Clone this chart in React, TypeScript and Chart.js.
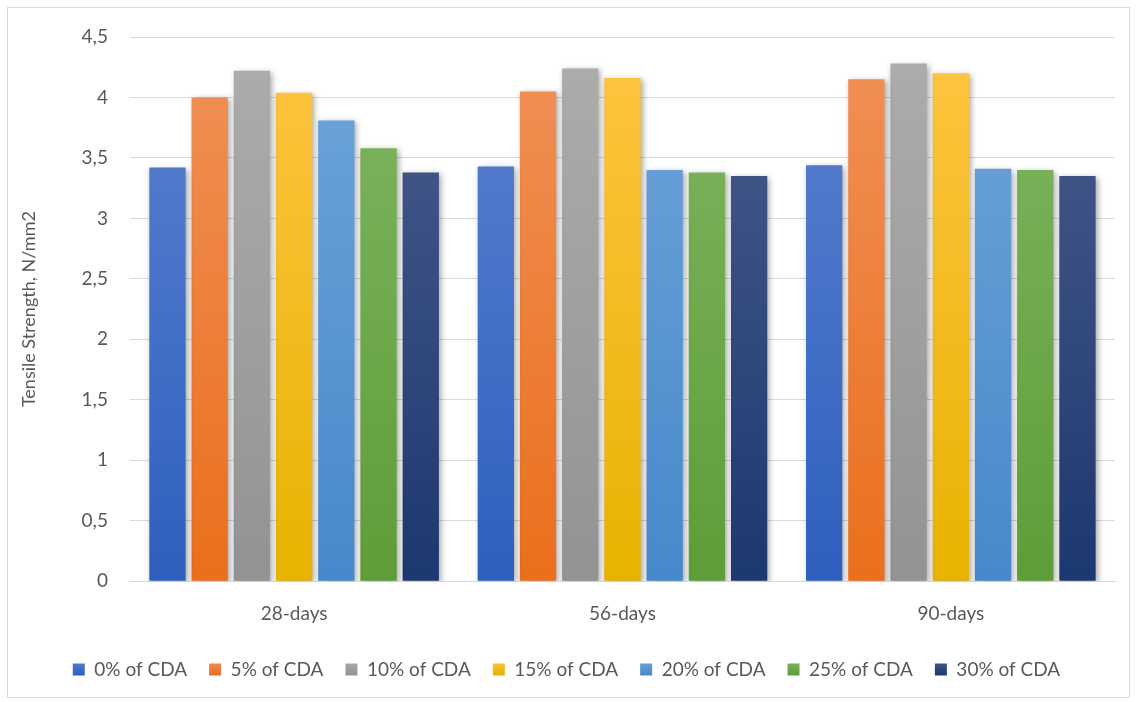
import React, { useEffect, useRef } from "react";
import { Chart, registerables } from "chart.js";

Chart.register(...registerables);

const categories = ["28-days", "56-days", "90-days"];
const seriesNames = ["0% of CDA", "5% of CDA", "10% of CDA", "15% of CDA", "20% of CDA", "25% of CDA", "30% of CDA"];
const cda0 = [3.42, 3.43, 3.44];
const cda5 = [4.0, 4.05, 4.15];
const cda10 = [4.22, 4.24, 4.28];
const cda15 = [4.04, 4.16, 4.2];
const cda20 = [3.81, 3.4, 3.41];
const cda25 = [3.58, 3.38, 3.4];
const cda30 = [3.38, 3.35, 3.35];
const seriesValues = [cda0, cda5, cda10, cda15, cda20, cda25, cda30];
const topColors = ["#5b82cf", "#f19158", "#adadad", "#ffc543", "#70a5db", "#80b662", "#4b5d8c"];
const bottomColors = ["#2e5fbf", "#ea6f1c", "#939393", "#e8b300", "#4689ca", "#5d9e38", "#1c3870"];
const yTicks = [0, 0.5, 1, 1.5, 2, 2.5, 3, 3.5, 4, 4.5];

const FONT = "Lato, 'Open Sans', sans-serif";

export default function App() {
  const ref = useRef<HTMLCanvasElement | null>(null);
  useEffect(() => {
    if (!ref.current) return;
    const borderPlugin = {
      id: "frame",
      beforeDraw(chart: any) {
        const c = chart.ctx;
        c.save();
        c.fillStyle = "#ffffff";
        c.fillRect(0, 0, chart.width, chart.height);
        c.strokeStyle = "#d9d9d9";
        c.lineWidth = 1;
        c.strokeRect(7.5, 7.5, chart.width - 15, chart.height - 12);
        c.restore();
      },
      beforeDatasetsDraw(chart: any) {
        const c = chart.ctx;
        c.save();
        c.shadowColor = "rgba(0,0,0,0.35)";
        c.shadowBlur = 6;
        c.shadowOffsetX = 2;
        c.shadowOffsetY = 2;
      },
      afterDatasetsDraw(chart: any) {
        chart.ctx.restore();
      },
    };
    const chart = new Chart(ref.current, {
      type: "bar",
      data: {
        labels: categories,
        datasets: seriesNames.map((name, i) => ({
          label: name,
          data: seriesValues[i],
          backgroundColor: (ctx: any) => {
            const area = ctx.chart.chartArea;
            if (!area) return topColors[i];
            const g = ctx.chart.ctx.createLinearGradient(0, area.top, 0, area.bottom);
            g.addColorStop(0, topColors[i]);
            g.addColorStop(1, bottomColors[i]);
            return g;
          },
          borderWidth: 0,
          barPercentage: 0.86,
          categoryPercentage: 0.9,
        })),
      },
      options: {
        animation: false,
        responsive: false,
        maintainAspectRatio: false,
        layout: { padding: { left: 18, right: 22, top: 37, bottom: 13 } },
        plugins: {
          legend: {
            position: "bottom",
            labels: {
              boxWidth: 12,
              boxHeight: 12,
              padding: 22,
              color: "#595959",
              font: { family: FONT, size: 19 },
              generateLabels: (chart: any) =>
                seriesNames.map((n, i) => ({
                  text: n,
                  fillStyle: (() => {
                    const g = chart.ctx.createLinearGradient(0, 660, 0, 675);
                    g.addColorStop(0, topColors[i]);
                    g.addColorStop(1, bottomColors[i]);
                    return g;
                  })(),
                  strokeStyle: "transparent",
                  lineWidth: 0,
                  fontColor: "#595959",
                  hidden: false,
                  datasetIndex: i,
                })),
            },
          },
          tooltip: { enabled: false },
        },
        scales: {
          x: {
            grid: { display: false },
            border: { color: "#d9d9d9", width: 1 },
            ticks: { color: "#595959", font: { family: FONT, size: 19 }, padding: 13 },
          },
          y: {
            min: 0,
            max: 4.5,
            afterBuildTicks: (axis: any) => {
              axis.ticks = yTicks.map((v) => ({ value: v }));
            },
            grid: { color: "#d9d9d9", drawTicks: false },
            border: { display: false },
            ticks: {
              color: "#595959",
              font: { family: FONT, size: 19 },
              padding: 22,
              callback: (v: any) => String(v).replace(".", ","),
            },
            title: {
              display: true,
              text: "Tensile Strength, N/mm2",
              color: "#595959",
              font: { family: FONT, size: 18 },
              padding: { top: 0, bottom: 20 },
            },
          },
        },
      },
      plugins: [borderPlugin],
    });
    return () => chart.destroy();
  }, []);
  return (
    <div style={{ position: "fixed", left: 0, top: 0, width: 1137, height: 702 }}>
      <canvas ref={ref} width={1137} height={702} style={{ width: 1137, height: 702 }} />
    </div>
  );
}
